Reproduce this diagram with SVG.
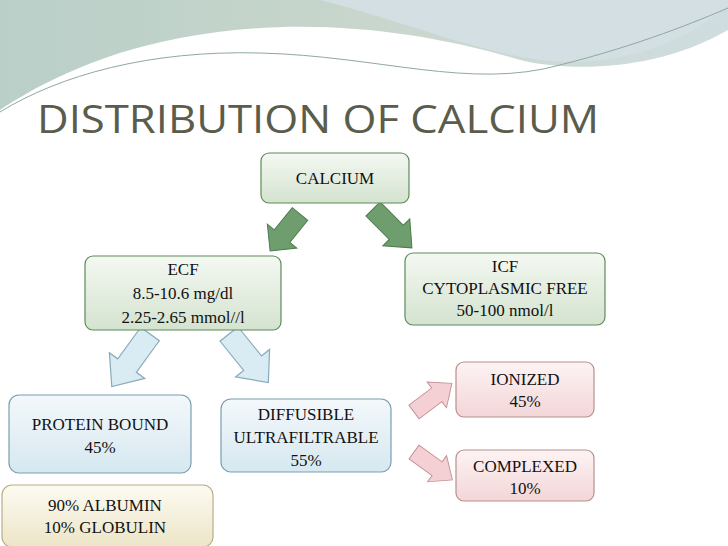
<svg xmlns="http://www.w3.org/2000/svg" width="728" height="546" viewBox="0 0 728 546">
<defs>
<linearGradient id="wave" x1="0" y1="0" x2="1" y2="0"><stop offset="0" stop-color="#b9cfc8"/><stop offset="0.5" stop-color="#c8d6cc"/><stop offset="1" stop-color="#cfdde0"/></linearGradient>
<linearGradient id="gG" x1="0" y1="0" x2="0" y2="1"><stop offset="0" stop-color="#f4f8f2"/><stop offset="1" stop-color="#d4e3cf"/></linearGradient>
<linearGradient id="gB" x1="0" y1="0" x2="0" y2="1"><stop offset="0" stop-color="#f3f8fb"/><stop offset="1" stop-color="#d6e8f0"/></linearGradient>
<linearGradient id="gP" x1="0" y1="0" x2="0" y2="1"><stop offset="0" stop-color="#fdf3f3"/><stop offset="1" stop-color="#f3d6d8"/></linearGradient>
<linearGradient id="gY" x1="0" y1="0" x2="0" y2="1"><stop offset="0" stop-color="#fdfbf2"/><stop offset="1" stop-color="#ece5c8"/></linearGradient>
<path id="arr" d="M0,-10 L30,-10 L30,-19 L50,0 L30,19 L30,10 L0,10 Z"/>
</defs>
<style>
.t{font-family:"Liberation Serif",serif;font-size:17px;fill:#111;text-anchor:middle}
.bx{stroke-width:1.2}
.g{fill:url(#gG);stroke:#5e8a5a}
.b{fill:url(#gB);stroke:#7a9eb0}
.p{fill:url(#gP);stroke:#b88f8f}
.y{fill:url(#gY);stroke:#b8ae84}
.ag{fill:#6e9d6e;stroke:#4f7c50}
.ab{fill:#d9ebf3;stroke:#8aaabb}
.ap{fill:#f4cfd3;stroke:#c48f96}
</style>
<rect width="728" height="546" fill="#fff"/>
<path d="M0,0 H728 V30 C650,75 560,70 520,60 C420,30 300,15 180,38 C90,55 30,90 0,110 Z" fill="url(#wave)"/>
<path d="M320,0 C400,20 470,50 540,60 C620,70 690,40 728,5 V0 Z" fill="#d3dfe2"/>
<path d="M0,112 C60,75 150,50 260,53 C380,56 470,90 560,65 C640,45 700,20 728,8" fill="none" stroke="#8fa8a2" stroke-width="1"/>
<text x="37" y="133" font-family="Open Sans, sans-serif" font-size="38" fill="#5a5c4c" textLength="562" lengthAdjust="spacingAndGlyphs">DISTRIBUTION OF CALCIUM</text>
<g id="connectors">
<use href="#arr" class="ag" transform="translate(300,214) rotate(129) scale(0.95,1)"/>
<use href="#arr" class="ag" transform="translate(373,209) rotate(45) scale(1.1,1)"/>
<use href="#arr" class="ab" transform="translate(150,334) rotate(126) scale(1.3,1.15)"/>
<use href="#arr" class="ab" transform="translate(229,334) rotate(51) scale(1.25,1.15)"/>
<use href="#arr" class="ap" transform="translate(414,412) rotate(-37) scale(0.95,0.85)"/>
<use href="#arr" class="ap" transform="translate(414,452) rotate(36) scale(0.95,0.85)"/>
</g>
<g id="calcium"><rect class="bx g" x="261" y="153" width="148" height="50" rx="8"/><text class="t" x="335" y="184">CALCIUM</text></g>
<g id="ecf"><rect class="bx g" x="85" y="256" width="196" height="74" rx="8"/><text class="t" x="183" y="275">ECF</text><text class="t" x="183" y="299">8.5-10.6 mg/dl</text><text class="t" x="183" y="323">2.25-2.65 mmol//l</text></g>
<g id="icf"><rect class="bx g" x="405" y="253" width="200" height="72" rx="8"/><text class="t" x="505" y="272">ICF</text><text class="t" x="505" y="294">CYTOPLASMIC FREE</text><text class="t" x="505" y="316">50-100 nmol/l</text></g>
<g id="protein"><rect class="bx b" x="9" y="395" width="182" height="78" rx="10"/><text class="t" x="100" y="430">PROTEIN BOUND</text><text class="t" x="100" y="453">45%</text></g>
<g id="diffusible"><rect class="bx b" x="221" y="399" width="170" height="73" rx="10"/><text class="t" x="306" y="420">DIFFUSIBLE</text><text class="t" x="306" y="443">ULTRAFILTRABLE</text><text class="t" x="306" y="466">55%</text></g>
<g id="ionized"><rect class="bx p" x="456" y="362" width="138" height="55" rx="8"/><text class="t" x="525" y="385">IONIZED</text><text class="t" x="525" y="407">45%</text></g>
<g id="complexed"><rect class="bx p" x="456" y="450" width="138" height="51" rx="8"/><text class="t" x="525" y="472">COMPLEXED</text><text class="t" x="525" y="494">10%</text></g>
<g id="albumin"><rect class="bx y" x="2" y="485" width="211" height="62" rx="10"/><text class="t" x="105" y="511">90% ALBUMIN</text><text class="t" x="105" y="533">10% GLOBULIN</text></g>
</svg>
